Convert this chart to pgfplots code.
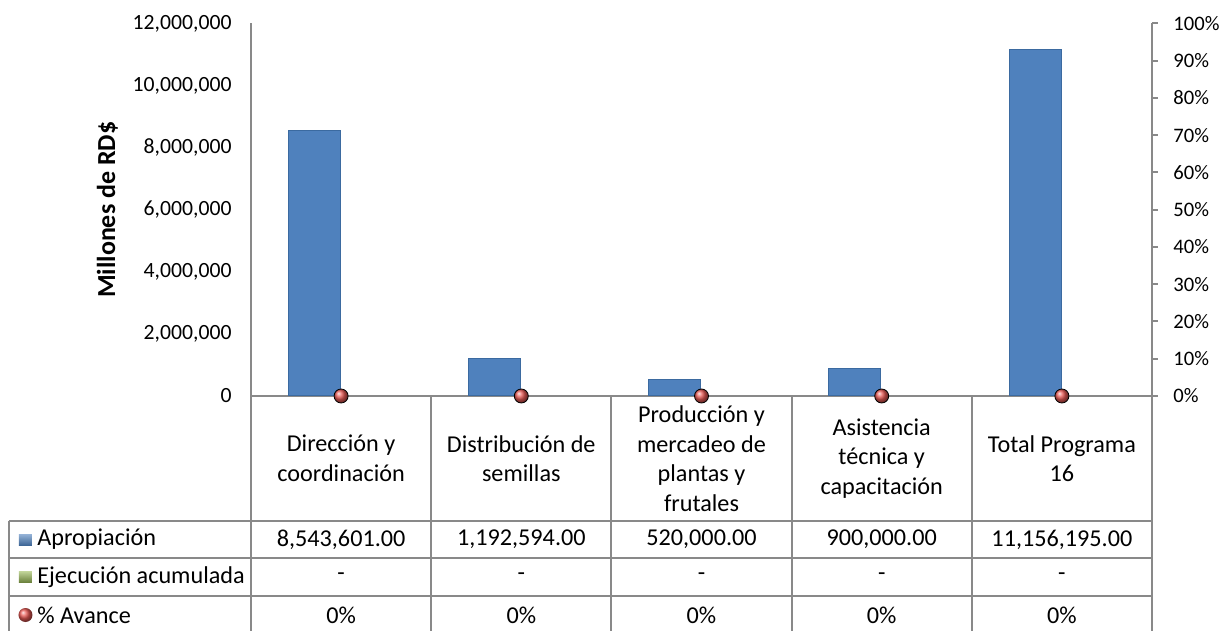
\documentclass[border=0pt]{standalone}
\usepackage{fontspec}
\setmainfont{Carlito}
\usepackage{pgfplots}
\pgfplotsset{compat=1.18}
\definecolor{axgray}{HTML}{898989}
\definecolor{barblue}{HTML}{4F81BD}
\definecolor{bardark}{HTML}{3B6AA0}
\definecolor{dotred}{HTML}{E85A55}
\definecolor{keygreen}{HTML}{9BBB59}
\begin{document}
\fontsize{12.1}{14.8}\selectfont
\begin{tikzpicture}[font=\fontsize{12.1}{14.8}\selectfont]
\begin{axis}[at={(0,0)}, anchor=south west, scale only axis,
  width=450.5pt, height=186.25pt,
  xmin=-0.5, xmax=4.5, ymin=0, ymax=12000000,
  axis x line*=bottom, axis y line*=left,
  axis line style={draw=axgray, line width=1pt},
  xtick=\empty, ytick distance=2000000, major tick length=0pt,
  scaled y ticks=false,
  yticklabel style={font=\fontsize{10.85}{13}\selectfont, xshift=-5.5pt, /pgf/number format/fixed, /pgf/number format/1000 sep={,}, /pgf/number format/assume math mode=true},
  every axis y label/.style={at={(axis description cs:-0.1593,0.5)}, rotate=90, anchor=center, font=\fontsize{13}{15}\selectfont\bfseries},
  ylabel={Millones de RD\$},
  clip=false]
\addplot[ybar, bar width=26pt, bar shift=-13.4pt, fill=barblue, draw=bardark, line width=0.5pt]
  coordinates {(0,8543601) (1,1192594) (2,520000) (3,900000) (4,11156195)};
\end{axis}
\begin{axis}[at={(0,0)}, anchor=south west, scale only axis,
  width=450.5pt, height=186.25pt,
  xmin=-0.5, xmax=4.5, ymin=0, ymax=100,
  axis x line=none, axis y line*=right,
  axis line style={draw=axgray, line width=1pt},
  ytick distance=10, yticklabel={\pgfmathprintnumber{\tick}\%},
  tick align=outside, major tick length=3pt,
  major tick style={draw=axgray, line width=1pt},
  yticklabel style={font=\fontsize{10.3}{12}\selectfont, xshift=3.5pt, /pgf/number format/assume math mode=true},
  clip=false]
\addplot[only marks, mark=ball, mark size=3.5pt, mark options={ball color=dotred}]
  coordinates {(0,0) (1,0) (2,0) (3,0) (4,0)};
\end{axis}
\begin{scope}[shift={(-125.5pt,198pt)}, x=0.5pt, y=-0.5pt]
  \begin{scope}[draw=axgray, line width=1pt]
    \foreach \x in {251,431.2,611.4,791.6,971.8,1152} \draw (\x,396) -- (\x,631);
    \foreach \y in {521,558,596} \draw (9,\y) -- (1152,\y);
    \draw (9,521) -- (9,631);
  \end{scope}
  \foreach \x/\t in {341.1/{Dirección y\\coordinación},521.3/{Distribución de\\semillas},701.5/{Producción y\\mercadeo de\\plantas y\\frutales},881.7/{Asistencia\\técnica y\\capacitación},1061.9/{Total Programa\\16}}
    \node[align=center, inner sep=0pt] at (\x,458.5) {\t};
  % row legend keys
  \shade[top color=barblue!60!white, bottom color=barblue!80!black] (19,534) rectangle (32,545);
  \shade[top color=keygreen!60!white, bottom color=keygreen!70!black] (19,571) rectangle (32,582);
  \shade[ball color=dotred] (25.5,615) circle (7);
  \node[anchor=west, inner sep=0pt] at (37,539.5) {Apropiación};
  \node[anchor=west, inner sep=0pt] at (37,577) {Ejecución acumulada};
  \node[anchor=west, inner sep=0pt] at (37,615) {\% Avance};
  \foreach \x/\v in {341.1/{8,543,601.00},521.3/{1,192,594.00},701.5/{520,000.00},881.7/{900,000.00},1061.9/{11,156,195.00}}
    \node[inner sep=0pt] at (\x,539.5) {\v};
  \foreach \x in {341.1,521.3,701.5,881.7,1061.9} {
    \node[inner sep=0pt] at (\x,577) {-};
    \node[inner sep=0pt] at (\x,615) {0\%};
  }
  \pgfresetboundingbox
  \path[use as bounding box] (0,0) rectangle (1220,631);
\end{scope}
\end{tikzpicture}
\end{document}
